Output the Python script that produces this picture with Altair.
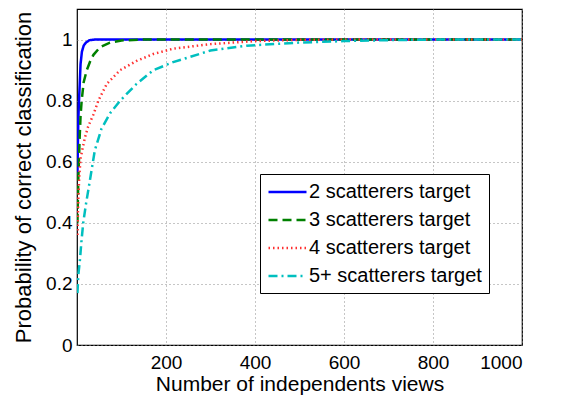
import altair as alt
import pandas as pd

series_names = ["2 scatterers target", "3 scatterers target", "4 scatterers target", "5+ scatterers target"]

views_2 = [1, 2, 3, 4.5, 6, 8, 11, 15, 20, 28, 40, 1000]
prob_2 = [0.56, 0.66, 0.74, 0.80, 0.85, 0.92, 0.96, 0.98, 0.99, 0.998, 1.0, 1.0]

views_3 = [1, 2, 3, 4.5, 6, 8, 10.5, 15, 22, 30, 37, 52, 74, 100, 150, 1000]
prob_3 = [0.40, 0.48, 0.55, 0.61, 0.68, 0.75, 0.80, 0.86, 0.90, 0.93, 0.95, 0.975, 0.99, 0.997, 1.0, 1.0]

views_4 = [1, 2, 3, 5, 8, 12, 18, 25, 37, 48, 67, 97, 134, 172, 216, 300, 400, 500, 600, 1000]
prob_4 = [0.36, 0.43, 0.48, 0.55, 0.61, 0.64, 0.68, 0.715, 0.755, 0.80, 0.855, 0.90, 0.93, 0.953, 0.97, 0.985, 0.995, 0.999, 1.0, 1.0]

views_5 = [1, 3, 6.7, 10, 14, 20, 28, 40, 55, 75, 97, 134, 172, 216, 300, 381, 500, 600, 700, 800, 1000]
prob_5 = [0.17, 0.23, 0.28, 0.34, 0.40, 0.46, 0.53, 0.637, 0.708, 0.76, 0.80, 0.855, 0.90, 0.926, 0.964, 0.98, 0.99, 0.995, 0.998, 1.0, 1.0]

x_ticks = [200, 400, 600, 800, 1000]
y_ticks = [0, 0.2, 0.4, 0.6, 0.8, 1]

line_colors = ["#0000ff", "#008000", "#ff3030", "#00bfbf"]
line_dashes = [[1, 0], [9, 5], [1.5, 3], [9, 4, 2, 4]]
line_widths = [2.5, 2.5, 1.5, 2.2]

rows = []
for name, xs, ys in zip(series_names, [views_2, views_3, views_4, views_5], [prob_2, prob_3, prob_4, prob_5]):
    for xv, yv in zip(xs, ys):
        rows.append({"series": name, "views": xv, "prob": yv})
df = pd.DataFrame(rows)

FONT = "Liberation Sans"

chart = alt.Chart(df).mark_line(clip=True).encode(
    x=alt.X("views:Q", scale=alt.Scale(domain=[0, 1000], nice=False),
            axis=alt.Axis(values=x_ticks, title="Number of independents views",
                          format="d", labelPadding=8, titlePadding=1, titleFontSize=21)),
    y=alt.Y("prob:Q", scale=alt.Scale(domain=[0, 1.1], nice=False),
            axis=alt.Axis(values=y_ticks, title="Probability of correct classification",
                          labelExpr="datum.value == 0 ? '0' : datum.value == 1 ? '1' : format(datum.value, '.1f')",
                          labelPadding=5, titlePadding=10, titleFontSize=22)),
    color=alt.Color("series:N", scale=alt.Scale(domain=series_names, range=line_colors),
                    legend=alt.Legend(title=None, orient="none", legendX=183, legendY=165)),
    strokeDash=alt.StrokeDash("series:N", scale=alt.Scale(domain=series_names, range=line_dashes)),
    strokeWidth=alt.StrokeWidth("series:N", scale=alt.Scale(domain=series_names, range=line_widths)),
    order=alt.Order("views:Q"),
).properties(
    width=445, height=336,
    autosize=alt.AutoSizeParams(type="none"),
    padding={"left": 69, "top": 1, "right": 34, "bottom": 50},
).configure_view(
    stroke="#000000", strokeWidth=1.2
).configure_axis(
    labelFont=FONT, labelFontSize=19, labelColor="#000000",
    titleFont=FONT, titleColor="#000000", titleFontWeight="normal",
    domain=False, ticks=False, tickSize=0,
    grid=True, gridColor="#8c8c8c", gridDash=[1, 3], gridWidth=1, gridOpacity=1,
).configure_legend(
    labelFont=FONT, labelFontSize=20, labelColor="#000000", labelLimit=400,
    symbolType="M-1,0H3", symbolSize=361, labelOffset=20,
    strokeColor="#000000", fillColor="#ffffff", padding=7, rowPadding=7,
    cornerRadius=0,
)

chart.save("out.html", embed_options={"renderer": "svg", "actions": False})
